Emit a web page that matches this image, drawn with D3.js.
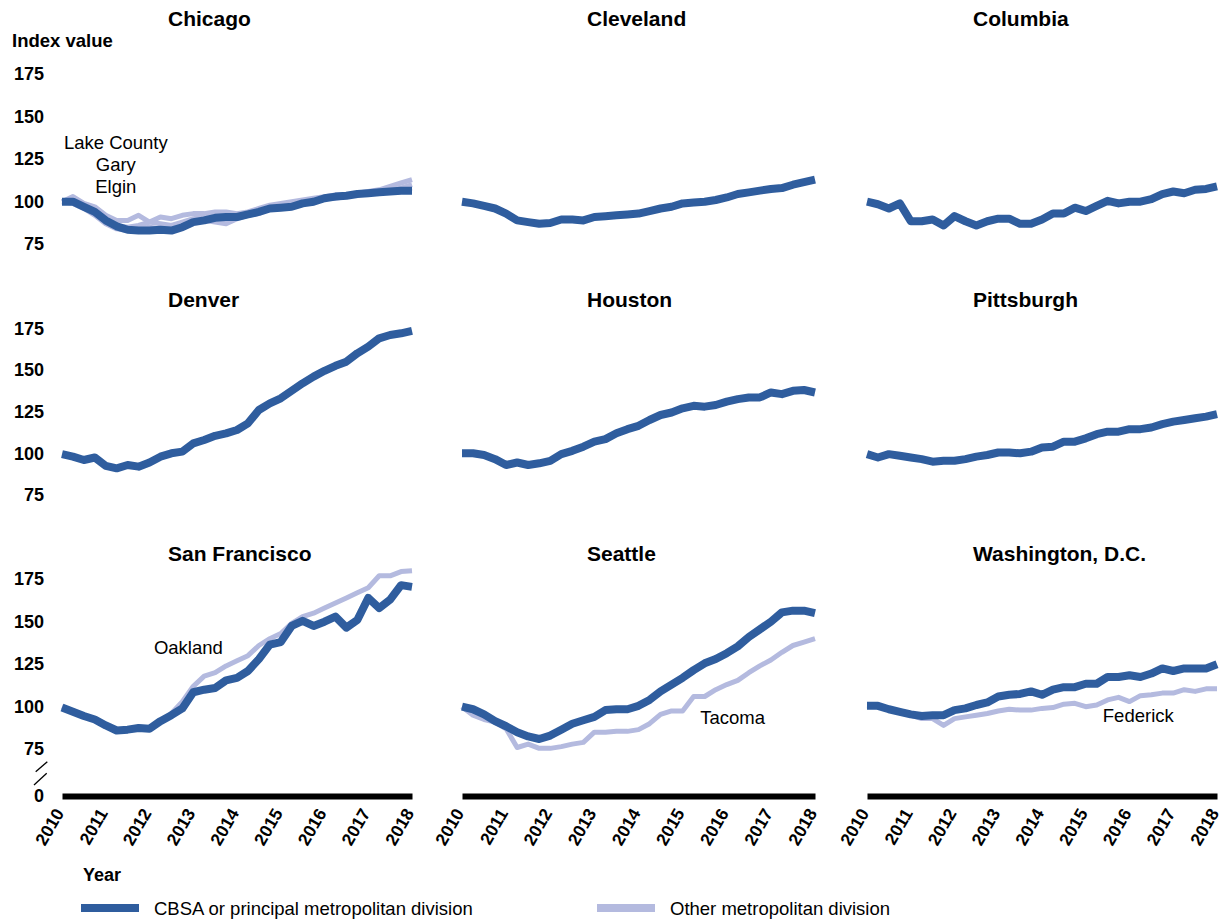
<!DOCTYPE html>
<html>
<head>
<meta charset="utf-8">
<script src="https://d3js.org/d3.v7.min.js"></script>
<style>
	body {margin: 0; background: #fff;}
	text {font-family: "Liberation Sans", Arial, sans-serif; fill: #000;}
	.title {font-size: 21px; font-weight: bold;}
	.tick text {font-size: 18px; font-weight: bold;}
	.xlab text {font-size: 17.5px;}
	.note {font-size: 18.5px;}
</style>
</head>
<body>
<script>
// quarterly index values, 2010 = 100
var quarters = [2010, 2010.25, 2010.5, 2010.75, 2011, 2011.25, 2011.5, 2011.75,
	2012, 2012.25, 2012.5, 2012.75, 2013, 2013.25, 2013.5, 2013.75,
	2014, 2014.25, 2014.5, 2014.75, 2015, 2015.25, 2015.5, 2015.75,
	2016, 2016.25, 2016.5, 2016.75, 2017, 2017.25, 2017.5, 2017.75, 2018];
var years = [2010, 2011, 2012, 2013, 2014, 2015, 2016, 2017, 2018];
var yTicks = [75, 100, 125, 150, 175];

var chicago = [100, 100, 97, 94, 89, 85.5, 83.5, 83, 83, 83.5, 83, 85, 88, 89, 90.5, 91, 91, 92.5, 94, 96, 96.5, 97, 99, 100, 102, 103, 103.5, 104.5, 105, 105.5, 106, 106.5, 106.5];
var lakeCounty = [100, 103, 99, 97, 92, 89, 89, 92, 88, 91, 90, 92, 93, 93, 94, 94, 93, 94, 96, 98, 99, 100, 101, 102, 103, 104, 104, 105, 106, 107, 109, 111, 113];
var gary = [100, 99, 96, 92, 87, 84, 83, 84, 85, 84, 85, 86, 88, 89, 88, 87, 90, 92, 93, 96, 97, 98, 100, 101, 102, 102, 103, 104, 105, 106, 106, 107, 108];
var elgin = [100, 101, 98, 94, 89, 86, 85, 86, 88, 87, 86, 88, 90, 91, 92, 93, 92, 93, 95, 97, 98, 99, 100, 101, 102, 103, 104, 105, 105, 106, 107, 108, 110];
var cleveland = [100, 99, 97.5, 96, 93, 89, 88, 87, 87.5, 89.5, 89.5, 89, 91, 91.5, 92, 92.5, 93, 94.5, 96, 97, 99, 99.5, 100, 101, 102.5, 104.5, 105.5, 106.5, 107.5, 108, 110, 111.5, 113];
var columbia = [100, 98.5, 96, 99, 88.5, 88.5, 89.5, 86, 91.5, 88.5, 86, 88.5, 90, 90, 87, 87, 89.5, 93, 93, 96.5, 94.5, 97.5, 100.5, 99, 100, 100, 101.5, 104.5, 106, 105, 107, 107.5, 109];
var denver = [99.5, 98, 96, 97.5, 92.5, 91, 93, 92, 94.5, 98, 100, 101, 106, 108, 110.5, 112, 114, 118, 126, 130, 133, 137.5, 142, 146, 149.5, 152.5, 155, 160, 164, 169, 171, 172, 173.5];
var houston = [100, 100, 99, 96.5, 93, 94.5, 93, 94, 95.5, 99.5, 101.5, 104, 107, 108.5, 112, 114.5, 116.5, 120, 123, 124.5, 127, 128.5, 128, 129, 131, 132.5, 133.5, 133.5, 136.5, 135.5, 137.5, 138, 136.5];
var pittsburgh = [99.5, 97.5, 99.5, 98.5, 97.5, 96.5, 95, 95.5, 95.5, 96.5, 98, 99, 100.5, 100.5, 100, 101, 103.5, 104, 107, 107, 109, 111.5, 113, 113, 114.5, 114.5, 115.5, 117.5, 119, 120, 121, 122, 123.5];
var sanFrancisco = [99.5, 97, 94.5, 92.5, 89, 86, 86.5, 87.5, 87, 91.5, 95, 99, 108.5, 110, 111, 115.5, 117, 121, 128, 136.5, 138, 147.5, 150.5, 147.5, 150, 153, 146.5, 151, 164, 158, 163, 171.5, 170.5];
var oakland = [100, 97.5, 95, 93, 89.5, 86.5, 86.5, 88, 87.5, 91, 96, 103, 112, 118, 120, 124, 127, 130, 136, 140, 143, 149, 153, 155, 158, 161, 164, 167, 170, 177, 177, 179.5, 180];
var seattle = [100, 98.5, 95.5, 91.5, 88.5, 85, 82.5, 81, 83, 86.5, 90, 92, 94, 98, 98.5, 98.5, 100.5, 104, 109, 113, 117, 121.5, 125.5, 128, 131.5, 135.5, 141, 145.5, 150, 155.5, 156.5, 156.5, 155];
var tacoma = [100, 95, 92.5, 91, 87, 76, 78, 75.5, 75.5, 76.5, 78, 79, 85, 85, 85.5, 85.5, 86.5, 90, 95.5, 97.5, 97.5, 106, 106, 110, 113, 115.5, 120, 124, 127.5, 132, 136, 138, 140];
var washington = [100.5, 100.5, 98.5, 97, 95.5, 94.5, 95, 95, 98, 99, 101, 102.5, 106, 107, 107.5, 109, 107, 110, 111.5, 111.5, 113.5, 113.5, 117.5, 117.5, 118.5, 117.5, 119.5, 122.5, 121, 122.5, 122.5, 122.5, 125];
var federick = [100.5, 100, 98, 96.5, 95, 93, 93, 89, 93, 94, 95, 96, 97.5, 98.5, 98, 98, 99, 99.5, 101.5, 102, 100, 101, 104, 105.5, 103, 106.5, 107, 108, 108, 110, 109, 110.5, 110.5];

var panels = [
	{title: "Chicago", main: chicago, others: [lakeCounty, gary, elgin],
		notes: [{t: "Lake County", x: 2011.23, v: 131, a: "middle"}, {t: "Gary", x: 2011.23, v: 118, a: "middle"}, {t: "Elgin", x: 2011.23, v: 105, a: "middle"}]},
	{title: "Cleveland", main: cleveland, others: [], notes: []},
	{title: "Columbia", main: columbia, others: [], notes: []},
	{title: "Denver", main: denver, others: [], notes: []},
	{title: "Houston", main: houston, others: [], notes: []},
	{title: "Pittsburgh", main: pittsburgh, others: [], notes: []},
	{title: "San Francisco", main: sanFrancisco, others: [oakland],
		notes: [{t: "Oakland", x: 2012.1, v: 131, a: "start"}]},
	{title: "Seattle", main: seattle, others: [tacoma],
		notes: [{t: "Tacoma", x: 2015.4, v: 89.8, a: "start"}]},
	{title: "Washington, D.C.", main: washington, others: [federick],
		notes: [{t: "Federick", x: 2015.39, v: 91.2, a: "start"}]}
];

var dark = "#2f5d9e", light = "#b4badf";

var svg = d3.select("body").append("svg")
	.attr("width", 1222)
	.attr("height", 922);

var colX = [[62, 412], [462, 815], [867, 1217]];
var rowY = [[244.2, 74.2], [495, 328.3], [749.2, 579.2]];
var titleX = [168, 587, 973];
var titleY = [26, 307, 561];
var axisY = 796;

panels.forEach(function(p, i) {
	var c = i % 3, r = Math.floor(i / 3);
	var x = d3.scaleLinear().domain([2010, 2018]).range(colX[c]);
	var y = d3.scaleLinear().domain([75, 175]).range(rowY[r]);
	var g = svg.append("g");

	g.append("text").attr("class", "title")
		.attr("x", titleX[c]).attr("y", titleY[r])
		.text(p.title);

	if (c == 0) {
		var ya = g.append("g")
			.attr("transform", "translate(47,0)")
			.call(d3.axisLeft(y).tickValues(yTicks).tickSize(0).tickPadding(3));
		ya.select(".domain").remove();
		ya.selectAll("text").attr("fill", "#000");
	}

	if (r == 2) {
		var xa = g.append("g")
			.attr("class", "xlab")
			.attr("transform", "translate(0," + axisY + ")")
			.call(d3.axisBottom(x).tickValues(years).tickFormat(d3.format("d")).tickSize(0).tickSizeOuter(0));
		xa.select(".domain").attr("stroke", "#000").attr("stroke-width", 6);
		xa.selectAll("text")
			.attr("fill", "#000")
			.attr("y", 0).attr("dy", 0)
			.attr("transform", "translate(2,17) rotate(-60)")
			.style("text-anchor", "end");
	}

	var line = d3.line()
		.x(function(d, j) { return x(quarters[j]); })
		.y(function(d) { return y(d); });

	p.others.forEach(function(o) {
		g.append("path").datum(o)
			.attr("d", line)
			.attr("fill", "none")
			.attr("stroke", light)
			.attr("stroke-width", 5)
			.attr("stroke-linejoin", "round");
	});
	g.append("path").datum(p.main)
		.attr("d", line)
		.attr("fill", "none")
		.attr("stroke", dark)
		.attr("stroke-width", 8)
		.attr("stroke-linejoin", "round");

	p.notes.forEach(function(n) {
		g.append("text").attr("class", "note")
			.attr("x", x(n.x)).attr("y", y(n.v))
			.attr("text-anchor", n.a)
			.text(n.t);
	});
});

// y axis label and the zero / break marks on the bottom-left panel
svg.append("text")
	.attr("x", 12).attr("y", 47)
	.style("font-size", "18.5px").style("font-weight", "bold")
	.text("Index value");

svg.append("text")
	.attr("x", 44).attr("y", axisY).attr("dy", "0.35em")
	.attr("text-anchor", "end")
	.style("font-size", "18px").style("font-weight", "bold")
	.text("0");

[[35.7, 771.7, 47.3, 761.7], [34, 785, 46.7, 773.3]].forEach(function(s) {
	svg.append("line")
		.attr("x1", s[0]).attr("y1", s[1]).attr("x2", s[2]).attr("y2", s[3])
		.attr("stroke", "#000").attr("stroke-width", 1.3);
});

svg.append("text")
	.attr("x", 83).attr("y", 881)
	.style("font-size", "18px").style("font-weight", "bold")
	.text("Year");

var legend = [
	{name: "CBSA or principal metropolitan division", color: dark, x: 81},
	{name: "Other metropolitan division", color: light, x: 597}
];
legend.forEach(function(l) {
	svg.append("line")
		.attr("x1", l.x).attr("x2", l.x + 58)
		.attr("y1", 908).attr("y2", 908)
		.attr("stroke", l.color).attr("stroke-width", 8);
	svg.append("text").attr("class", "note")
		.attr("x", l.x + 73).attr("y", 915)
		.text(l.name);
});
</script>
</body>
</html>
